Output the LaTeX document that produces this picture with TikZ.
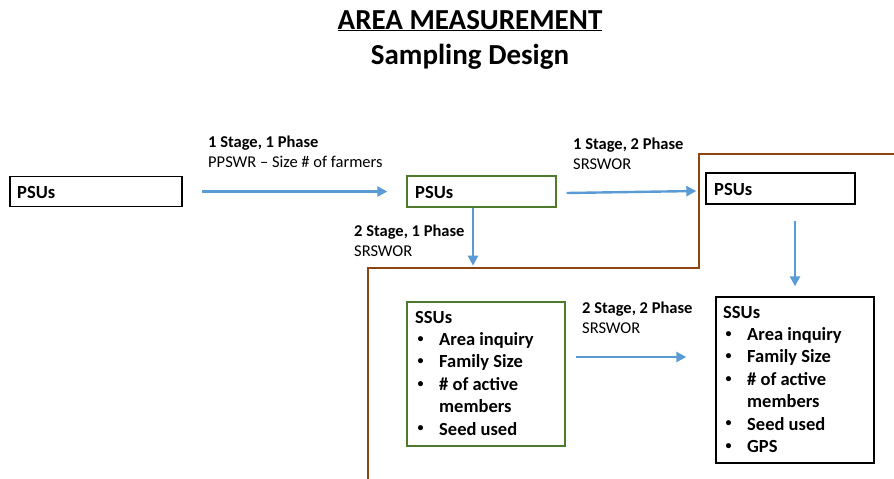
\documentclass[tikz,border=0pt]{standalone}
\usepackage{fontspec}
\setmainfont{Carlito}
\usetikzlibrary{arrows.meta}
\definecolor{arrowblue}{HTML}{5B9BD5}
\definecolor{boxgreen}{HTML}{4E7A2E}
\definecolor{linebrown}{HTML}{8E4514}
\tikzset{
  bbox/.style={draw=black, line width=1.4pt, inner sep=0pt},
  gbox/.style={draw=boxgreen, line width=1.4pt, inner sep=0pt},
  arr/.style={draw=arrowblue, line width=2.4pt, -{Triangle[length=10pt,width=10pt]}},
  boxtext/.style={anchor=base west, inner sep=0pt, align=left, font=\fontsize{18.5}{22.4}\selectfont\bfseries},
  lbl/.style={anchor=base west, inner sep=0pt, align=left, font=\fontsize{16.5}{20}\selectfont},
  title/.style={anchor=base, inner sep=0pt, font=\fontsize{29}{34}\selectfont\bfseries}
}
\newcommand{\bitem}[1]{\makebox[24pt][l]{\hspace{2.5pt}\raisebox{0.35ex}{\fontsize{12}{12}\selectfont\textbullet}}#1}
\newcommand{\bcont}[1]{\hspace*{24pt}#1}
\begin{document}
\begin{tikzpicture}[x=1pt,y=-1pt]
\useasboundingbox (0,0) rectangle (894,479);
% title
\node[title] (t1) at (470,29) {\underline{AREA MEASUREMENT}};
\node[title] (t2) at (470,64) {Sampling Design};
% brown boundary
\draw[linebrown, line width=2pt, line join=miter] (894,154) -- (699,154) -- (699,268) -- (368,268) -- (368,479);
% boxes
\node[bbox, minimum width=172pt, minimum height=30pt] (psu1) at (96,191.5) {};
\node[gbox, minimum width=149pt, minimum height=31pt] (psu2) at (481.5,191.5) {};
\node[bbox, minimum width=149pt, minimum height=31pt] (psu3) at (780.5,188.5) {};
\node[gbox, minimum width=158pt, minimum height=144pt] (ssu1) at (486,374) {};
\node[bbox, minimum width=158pt, minimum height=166pt] (ssu2) at (795,380) {};
% box texts (anchored at the baseline of the last line)
\node[boxtext] (psu1t) at (17,198) {PSUs};
\node[boxtext] (psu2t) at (415,198) {PSUs};
\node[boxtext] (psu3t) at (714,195) {PSUs};
\node[boxtext] (ssu1t) at (415,435) {SSUs\\ \bitem{Area inquiry}\\ \bitem{Family Size}\\ \bitem{\# of active}\\ \bcont{members}\\ \bitem{Seed used}};
\node[boxtext] (ssu2t) at (723,452.4) {SSUs\\ \bitem{Area inquiry}\\ \bitem{Family Size}\\ \bitem{\# of active}\\ \bcont{members}\\ \bitem{Seed used}\\ \bitem{GPS}};
% arrow labels
\node[lbl] (l1) at (208,167) {\textbf{1 Stage, 1 Phase}\\PPSWR -- Size \# of farmers};
\node[lbl] (l2) at (354,256) {\textbf{2 Stage, 1 Phase}\\SRSWOR};
\node[lbl] (l3) at (573,169) {\textbf{1 Stage, 2 Phase}\\SRSWOR};
\node[lbl] (l4) at (582,333) {\textbf{2 Stage, 2 Phase}\\SRSWOR};
% arrows
\draw[arr] ([xshift=19pt]psu1.east) -- ([xshift=-19pt]psu2.west);
\draw[arr] ([xshift=10pt,yshift=-1.5pt]psu2.east) -- ([xshift=-9pt,yshift=-2.5pt]psu3.west);
\coordinate (d2) at ([xshift=-8.5pt]psu2.south);
\draw[arr] (d2) -- ([yshift=-58pt]d2);
\coordinate (d3) at ([yshift=-16pt]psu3.south);
\draw[arr] (d3 -| ssu2.north) -- ([yshift=10pt]ssu2.north);
\coordinate (s4) at ([xshift=10pt,yshift=17pt]ssu1.east);
\coordinate (e4) at ([xshift=-29pt]ssu2.west);
\draw[arr] (s4) -- (s4 -| e4);
\end{tikzpicture}
\end{document}
